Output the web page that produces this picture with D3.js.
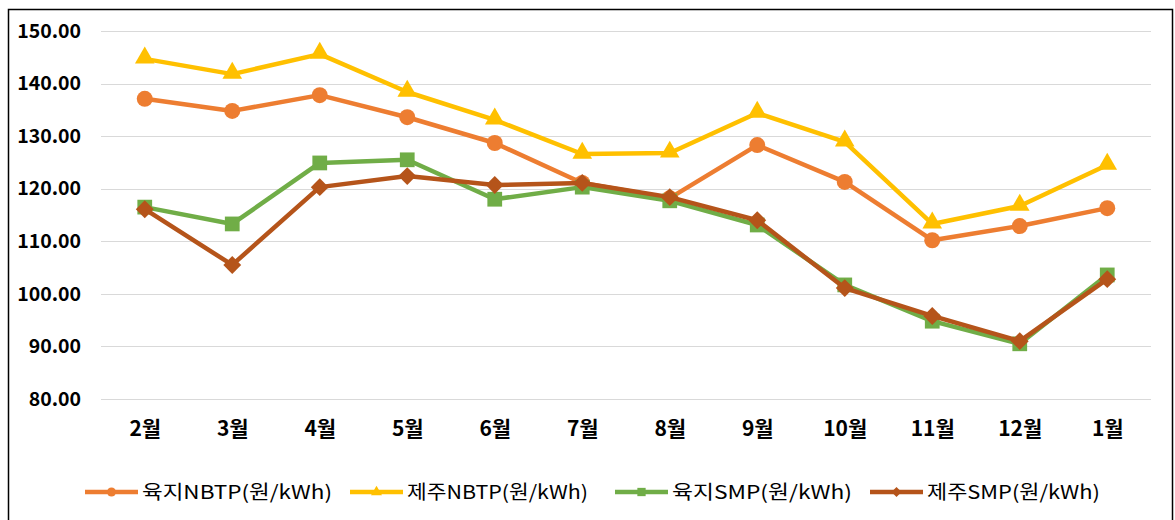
<!DOCTYPE html>
<html>
<head>
<meta charset="utf-8">
<script src="https://cdn.jsdelivr.net/npm/d3@7"></script>
<style>
  html, body { margin: 0; padding: 0; background: #fff; }
  svg { display: block; }
  text { font-family: "Noto Sans CJK KR", "Noto Sans", sans-serif; }
</style>
</head>
<body>
<script>
const months = ["2월","3월","4월","5월","6월","7월","8월","9월","10월","11월","12월","1월"];
const yTicks = [80, 90, 100, 110, 120, 130, 140, 150];

const seriesNames = ["육지NBTP(원/kWh)", "제주NBTP(원/kWh)", "육지SMP(원/kWh)", "제주SMP(원/kWh)"];
const landNBTP = [137.1, 134.8, 137.8, 133.6, 128.7, 121.1, 118.2, 128.3, 121.3, 110.2, 112.9, 116.3];
const jejuNBTP = [144.7, 141.8, 145.6, 138.4, 133.1, 126.6, 126.8, 134.4, 128.9, 113.3, 116.7, 124.5];
const landSMP  = [116.5, 113.3, 124.9, 125.5, 118.0, 120.3, 117.7, 113.1, 101.7, 94.8, 90.5, 103.6];
const jejuSMP  = [116.1, 105.5, 120.3, 122.4, 120.7, 121.1, 118.4, 114.0, 101.1, 95.8, 91.0, 102.8];

const W = 1175, H = 520;
const colors = ["#ED7D31", "#FFC000", "#70AD47", "#B5541A"];
const shapes = ["circle", "triangle", "square", "diamond"];
const allSeries = [landNBTP, jejuNBTP, landSMP, jejuSMP];

const svg = d3.select("body").append("svg").attr("width", W).attr("height", H);

// border
svg.append("rect").attr("x", 8.5).attr("y", 9.5).attr("width", 1164).attr("height", 520)
  .attr("fill", "none").attr("stroke", "#000").attr("stroke-width", 1.5);

const x = d3.scalePoint().domain(months).range([101, 1151]).padding(0.5);
const y = d3.scaleLinear().domain([80, 150]).range([399, 31]);

// grid
svg.append("g").selectAll("line").data(yTicks).join("line")
  .attr("x1", 101).attr("x2", 1151)
  .attr("y1", d => Math.round(y(d)) + 0.5).attr("y2", d => Math.round(y(d)) + 0.5)
  .attr("stroke", "#d9d9d9").attr("stroke-width", 1);

// y axis labels
const yAxis = d3.axisLeft(y).tickValues(yTicks).tickFormat(d3.format(".2f")).tickSize(0).tickPadding(0);
const gy = svg.append("g").attr("transform", "translate(81,0)").call(yAxis);
gy.select(".domain").remove();
gy.selectAll("text").attr("font-size", 19.5).attr("font-weight", "bold").attr("fill", "#000")
  .attr("font-family", "'Noto Sans CJK KR', sans-serif");

// x axis labels
const xAxis = d3.axisBottom(x).tickSize(0).tickPadding(0);
const gx = svg.append("g").attr("transform", "translate(0,421)").call(xAxis);
gx.select(".domain").remove();
gx.selectAll("text").attr("font-size", 21).attr("font-weight", "bold").attr("fill", "#000")
  .attr("font-family", "'Noto Sans CJK KR', sans-serif");

function markerPath(shape, s) {
  if (shape === "circle") return d3.symbol(d3.symbolCircle, Math.PI * s * s)();
  if (shape === "triangle") return d3.symbol(d3.symbolTriangle, s * s * 2.6)();
  if (shape === "square") return d3.symbol(d3.symbolSquare, s * s * 3.4)();
  return d3.symbol(d3.symbolSquare, s * s * 2.5)();
}

const line = d3.line().x((d, i) => x(months[i])).y(d => y(d));

allSeries.forEach((vals, si) => {
  const g = svg.append("g");
  g.append("path").datum(vals).attr("d", line)
    .attr("fill", "none").attr("stroke", colors[si]).attr("stroke-width", 4.5)
    .attr("stroke-linejoin", "round");
  g.selectAll("path.m").data(vals).join("path").attr("class", "m")
    .attr("d", markerPath(shapes[si], 8))
    .attr("transform", (d, i) => `translate(${x(months[i])},${y(d)})` + (shapes[si] === "diamond" ? " rotate(45)" : "") + (shapes[si] === "triangle" ? " translate(0,-1)" : ""))
    .attr("fill", colors[si]);
});

// legend
const legendX = [85, 350, 615, 870];
const legendTextW = [190, 181, 180, 173];
const ly = 492;
seriesNames.forEach((name, si) => {
  const g = svg.append("g").attr("transform", `translate(${legendX[si]},${ly})`);
  g.append("line").attr("x1", 0).attr("x2", 53).attr("y1", 0).attr("y2", 0)
    .attr("stroke", colors[si]).attr("stroke-width", 4.5);
  g.append("path").attr("d", markerPath(shapes[si], 4.5))
    .attr("transform", `translate(26.5,0)` + (shapes[si] === "diamond" ? " rotate(45)" : ""))
    .attr("fill", colors[si]);
  g.append("text").attr("x", 57).attr("y", 0).attr("dy", "0.36em")
    .attr("font-size", 19).attr("fill", "#000")
    .attr("textLength", legendTextW[si]).attr("lengthAdjust", "spacingAndGlyphs")
    .text(name);
});
</script>
</body>
</html>
